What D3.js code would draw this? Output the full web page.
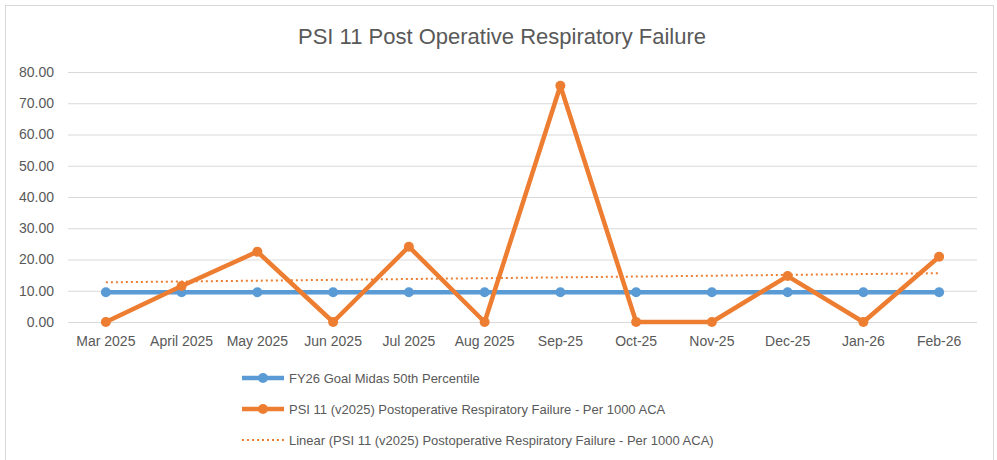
<!DOCTYPE html>
<html>
<head>
<meta charset="utf-8">
<script src="https://cdn.jsdelivr.net/npm/d3@7"></script>
<style>
  body { margin: 0; background: #fff; }
  text { font-family: "Liberation Sans", Arial, sans-serif; fill: #595959; }
</style>
</head>
<body>
<div id="chart"></div>
<script>
// data
var months = ["Mar 2025", "April 2025", "May 2025", "Jun 2025", "Jul 2025", "Aug 2025",
              "Sep-25", "Oct-25", "Nov-25", "Dec-25", "Jan-26", "Feb-26"];
var goal = [9.5, 9.5, 9.5, 9.5, 9.5, 9.5, 9.5, 9.5, 9.5, 9.5, 9.5, 9.5];
var psi11 = [0, 11.5, 22.5, 0, 24.1, 0, 75.6, 0, 0, 14.7, 0, 20.9];
var trendEnds = [12.7, 15.6];   // linear trendline at first and last month
var yTicks = [0, 10, 20, 30, 40, 50, 60, 70, 80];
var legendLabels = ["FY26 Goal Midas 50th Percentile",
                    "PSI 11 (v2025) Postoperative Respiratory Failure - Per 1000 ACA",
                    "Linear (PSI 11 (v2025) Postoperative Respiratory Failure - Per 1000 ACA)"];

var width = 997, height = 460;
var blue = "#5B9BD5", orange = "#ED7D31";

var svg = d3.select("#chart").append("svg")
    .attr("width", width)
    .attr("height", height);

// chart border
svg.append("rect")
    .attr("x", 5.5).attr("y", 5.5)
    .attr("width", 988).attr("height", 470)
    .style("fill", "#fff")
    .style("stroke", "#d9d9d9");

svg.append("text")
    .attr("x", 502)
    .attr("y", 44)
    .attr("text-anchor", "middle")
    .style("font-size", "22px")
    .text("PSI 11 Post Operative Respiratory Failure");

var x = d3.scaleBand()
    .domain(months)
    .range([68, 977]);

var y = d3.scaleLinear()
    .domain([0, 80])
    .range([322, 72]);

var cx = function(d, i) { return x(months[i]) + x.bandwidth() / 2; };

// gridlines + y labels
var yAxis = d3.axisLeft(y)
    .tickValues(yTicks)
    .tickSize(-(977 - 68))
    .tickPadding(14)
    .tickFormat(d3.format(".2f"));

var gy = svg.append("g")
    .attr("transform", "translate(68,0)")
    .call(yAxis);
gy.select(".domain").remove();
gy.selectAll("line").style("stroke", "#d9d9d9").style("stroke-width", 1);
gy.selectAll("text").style("font-size", "14px").style("fill", "#595959");

var xAxis = d3.axisBottom(x).tickSize(0).tickPadding(14);
var gx = svg.append("g")
    .attr("transform", "translate(0,322)")
    .call(xAxis);
gx.select(".domain").remove();
gx.selectAll("text").style("font-size", "14px").style("fill", "#595959");

// trendline
var tx = [cx(null, 0), cx(null, months.length - 1)];
svg.append("line")
    .attr("x1", tx[0]).attr("y1", y(trendEnds[0]))
    .attr("x2", tx[1]).attr("y2", y(trendEnds[1]))
    .style("stroke", orange)
    .style("stroke-width", 2)
    .style("stroke-dasharray", "2,3");

var line = d3.line()
    .x(cx)
    .y(function(d) { return y(d); });

// goal series
svg.append("path")
    .datum(goal)
    .attr("d", line)
    .style("fill", "none")
    .style("stroke", blue)
    .style("stroke-width", 4.5);
svg.selectAll(".goalDot")
    .data(goal)
  .enter().append("circle")
    .attr("class", "goalDot")
    .attr("cx", cx)
    .attr("cy", function(d) { return y(d); })
    .attr("r", 5)
    .style("fill", blue);

// PSI 11 series
svg.append("path")
    .datum(psi11)
    .attr("d", line)
    .style("fill", "none")
    .style("stroke", orange)
    .style("stroke-width", 4.5)
    .style("stroke-linejoin", "round");
svg.selectAll(".psiDot")
    .data(psi11)
  .enter().append("circle")
    .attr("class", "psiDot")
    .attr("cx", cx)
    .attr("cy", function(d) { return y(d); })
    .attr("r", 5)
    .style("fill", orange);

// legend
var legend = svg.selectAll(".legendItem")
    .data(legendLabels)
  .enter().append("g")
    .attr("class", "legendItem")
    .attr("transform", function(d, i) { return "translate(242," + (378 + i * 31) + ")"; });

legend.append("line")
    .attr("x1", 0).attr("x2", 42)
    .style("stroke", function(d, i) { return i === 0 ? blue : orange; })
    .style("stroke-width", function(d, i) { return i === 2 ? 2 : 4.5; })
    .style("stroke-dasharray", function(d, i) { return i === 2 ? "2,3" : null; });

legend.filter(function(d, i) { return i < 2; })
    .append("circle")
    .attr("cx", 21).attr("r", 5)
    .style("fill", function(d, i) { return i === 0 ? blue : orange; });

legend.append("text")
    .attr("x", 47)
    .attr("dy", "0.35em")
    .style("font-size", "13px")
    .text(function(d) { return d; });
</script>
</body>
</html>
